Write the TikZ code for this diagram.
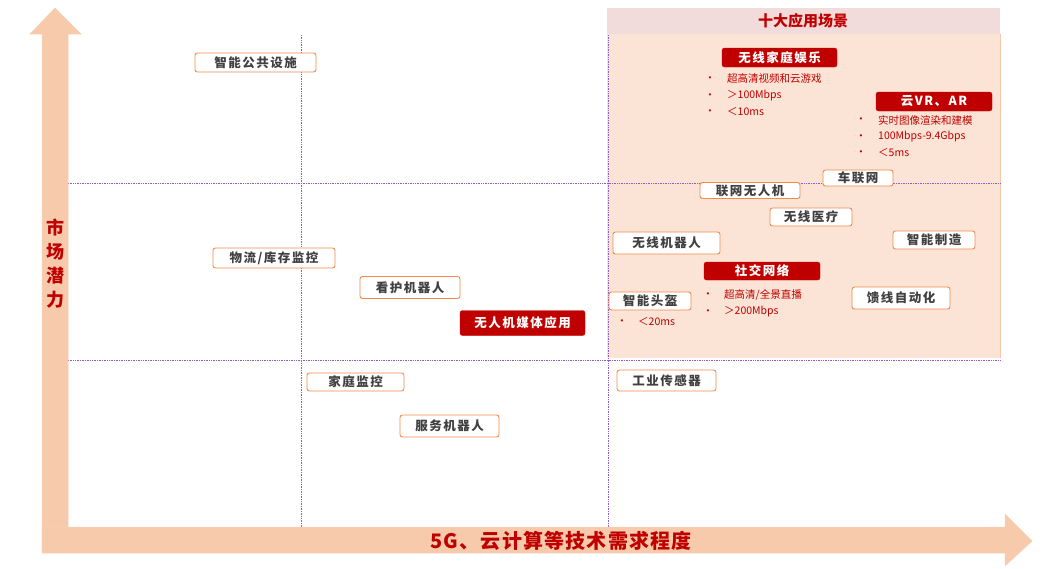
\documentclass[tikz,border=0pt]{standalone}
\usepackage{fontspec}
\newfontfamily\cjk{Noto Sans CJK SC}
\newfontfamily\cjkw[LetterSpace=12]{Noto Sans CJK SC}
\newfontfamily\cjkx[LetterSpace=6]{Noto Sans CJK SC}
\setmainfont{Liberation Sans}
\definecolor{arrowc}{HTML}{F7CAAC}
\definecolor{arrowe}{HTML}{F4B183}
\definecolor{gridc}{HTML}{8E5CC8}
\definecolor{darkred}{HTML}{C00000}
\definecolor{titlebg}{HTML}{F2DCDB}
\definecolor{areabg}{HTML}{FBE4D5}
\definecolor{boxedge}{HTML}{F08A4B}
\definecolor{labeltext}{HTML}{404040}
\tikzset{
  lbl/.style={draw=boxedge, fill=white, rounded corners=2.5pt, line width=0.9pt, inner sep=0pt, text=labeltext, font=\cjkw\bfseries\fontsize{12.5}{14}\selectfont},
  hot/.style={draw=darkred, fill=darkred, rounded corners=2.5pt, inner sep=0pt, text=white, font=\cjkw\bfseries\fontsize{12.5}{14}\selectfont},
  bul/.style={anchor=west, inner sep=0pt, text=darkred, font=\cjk\fontsize{10.5}{13}\selectfont},
  dot/.style={anchor=center, inner sep=0pt, text=darkred, font=\fontsize{8}{10}\selectfont},
  grid/.style={draw=gridc, densely dotted, line width=0.7pt}
}
\begin{document}
\begin{tikzpicture}[x=1pt,y=-1pt]
\useasboundingbox (0,0) rectangle (1048,568);
% pink region
\fill[titlebg] (607,8) rectangle (1000,34);
\fill[areabg] (607,34) rectangle (1000,358);
\draw[arrowe!70, line width=0.5pt] (1000,34) -- (1000,358);
\node[text=darkred, font=\cjk\bfseries\fontsize{15}{17}\selectfont] (title) at (803,21) {十大应用场景};
% grid lines
\coordinate (v1t) at (301,35); \coordinate (v1b) at (301,527);
\coordinate (v2t) at (608,35); \coordinate (v2b) at (608,527);
\coordinate (h1l) at (68,183); \coordinate (h1r) at (1000,183);
\coordinate (h2l) at (68,360); \coordinate (h2r) at (1000,360);
\draw[grid] (v1t) -- (v1b);
\draw[grid] (v2t) -- (v2b);
\draw[grid] (h1l) -- (h1r);
\draw[grid] (h2l) -- (h2r);
% axes arrows
\filldraw[fill=arrowc, draw=arrowe!60, line width=0.5pt] (42,553) -- (42,34) -- (30,34) -- (55,8) -- (81,34) -- (68,34) -- (68,527) -- cycle;
\filldraw[fill=arrowc, draw=arrowe!60, line width=0.5pt] (42,527) -- (1005,527) -- (1005,514) -- (1032,541) -- (1005,566) -- (1005,553) -- (42,553) -- cycle;
\node[text=darkred, font=\cjk\bfseries\fontsize{18}{24}\selectfont, align=center] (ylab) at (55,264) {市\\场\\潜\\力};
\node[text=darkred, font=\cjkx\bfseries\fontsize{20}{22}\selectfont] (xlab) at (561,541) {5G、云计算等技术需求程度};
% left nodes
\node[lbl, minimum width=121pt, minimum height=19pt] (n1) at (255.5,62.5) {智能公共设施};
\node[lbl, minimum width=122pt, minimum height=20pt] (n2) at (274,258) {物流/库存监控};
\node[lbl, minimum width=100pt, minimum height=22pt] (n3) at (410,287.5) {看护机器人};
\node[hot, minimum width=125pt, minimum height=25pt] (n4) at (522.5,323) {无人机媒体应用};
\node[lbl, minimum width=97pt, minimum height=18pt] (n5) at (355.5,382) {家庭监控};
\node[lbl, minimum width=99pt, minimum height=22pt] (n6) at (449.5,426) {服务机器人};
\node[lbl, minimum width=99pt, minimum height=21pt] (n7) at (666.5,380.5) {工业传感器};
% right region nodes
\node[hot, minimum width=115pt, minimum height=19pt] (r1) at (779.5,57.5) {无线家庭娱乐};
\node[hot, minimum width=116pt, minimum height=19pt] (r2) at (934,101.5) {云VR、AR};
\node[lbl, minimum width=70pt, minimum height=16pt] (r3) at (858,178) {车联网};
\node[lbl, minimum width=100pt, minimum height=16pt] (r4) at (750,190.5) {联网无人机};
\node[lbl, minimum width=82pt, minimum height=18pt] (r5) at (811,217) {无线医疗};
\node[lbl, minimum width=107pt, minimum height=22pt] (r6) at (666.5,243) {无线机器人};
\node[lbl, minimum width=82pt, minimum height=18pt] (r7) at (934,240) {智能制造};
\node[hot, minimum width=116pt, minimum height=18pt] (r8) at (762,271) {社交网络};
\node[lbl, minimum width=82pt, minimum height=18pt] (r9) at (650,301) {智能头盔};
\node[lbl, minimum width=98pt, minimum height=22pt] (r10) at (901,298) {馈线自动化};
% bullets
\node[dot] (d1) at (710,79) {•}; \node[bul] (t1) at (727,79) {超高清视频和云游戏};
\node[dot] (d2) at (710,96) {•}; \node[bul] (t2) at (727,96) {＞100Mbps};
\node[dot] (d3) at (710,112) {•}; \node[bul] (t3) at (727,112) {＜10ms};
\node[dot] (d4) at (861,120) {•}; \node[bul] (t4) at (878,120) {实时图像渲染和建模};
\node[dot] (d5) at (861,137) {•}; \node[bul] (t5) at (878,137) {100Mbps-9.4Gbps};
\node[dot] (d6) at (861,153) {•}; \node[bul] (t6) at (878,153) {＜5ms};
\node[dot] (d7) at (708,295) {•}; \node[bul] (t7) at (724,295) {超高清/全景直播};
\node[dot] (d8) at (708,312) {•}; \node[bul] (t8) at (724,312) {＞200Mbps};
\node[dot] (d9) at (622,322) {•}; \node[bul] (t9) at (638,322) {＜20ms};
\end{tikzpicture}
\end{document}
